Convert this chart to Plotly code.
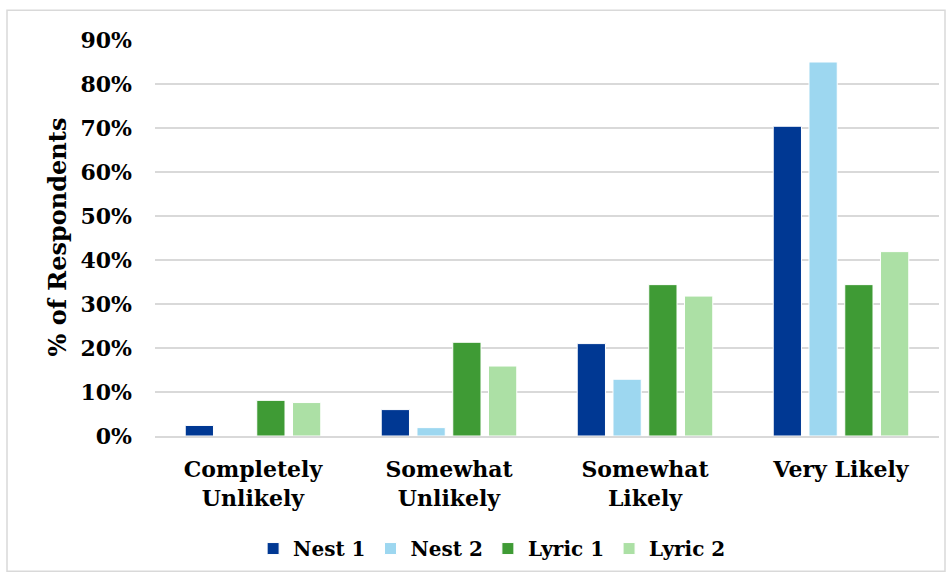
import plotly.graph_objects as go

categories = ["Completely<br>Unlikely", "Somewhat<br>Unlikely", "Somewhat<br>Likely", "Very Likely"]
series_names = ["Nest 1", "Nest 2", "Lyric 1", "Lyric 2"]
nest_1 = [0.024, 0.060, 0.210, 0.704]
nest_2 = [0.000, 0.019, 0.129, 0.850]
lyric_1 = [0.081, 0.213, 0.344, 0.344]
lyric_2 = [0.076, 0.159, 0.318, 0.419]
y_ticks = [0, 0.1, 0.2, 0.3, 0.4, 0.5, 0.6, 0.7, 0.8, 0.9]

colors = ["#003893", "#9DD7F0", "#3F9B35", "#ACE0A5"]
FONT = "DejaVu Serif"

fig = go.Figure()
for name, vals, col in zip(series_names, [nest_1, nest_2, lyric_1, lyric_2], colors):
    fig.add_trace(go.Bar(
        name=name, x=categories, y=vals,
        marker=dict(color=col, line=dict(color="white", width=1)),
    ))

# outer chart border
L, R, T, B = 155, 939, 40, 441
W, H = 952, 580
fig.add_shape(type="rect", xref="paper", yref="paper",
              x0=(7 - L) / (R - L), x1=(945 - L) / (R - L),
              y0=(B - 578) / (B - T), y1=(B - 10) / (B - T),
              line=dict(color="#D9D9D9", width=1.5), fillcolor="rgba(0,0,0,0)", layer="below")

fig.update_layout(
    width=W, height=H,
    margin=dict(l=L, r=W - R, t=T, b=H - B),
    paper_bgcolor="white", plot_bgcolor="white",
    barmode="group", bargap=0.27, bargroupgap=0.21,
    font=dict(family=FONT, size=22, color="black", weight="bold"),
    showlegend=True,
    legend=dict(orientation="h", x=0.43, xanchor="center", y=-0.235, yanchor="top",
                font=dict(family=FONT, size=20, color="black", weight="bold"),
                itemwidth=30, traceorder="normal"),
    xaxis=dict(showgrid=False, showline=True, linecolor="#D9D9D9", linewidth=2,
               ticks="", ticklabelstandoff=13,
               tickfont=dict(family=FONT, size=22, weight="bold")),
    yaxis=dict(range=[0, 0.9], tickvals=y_ticks, tickformat=".0%",
               showgrid=True, gridcolor="#D9D9D9", gridwidth=1.5,
               zeroline=False, showline=False, ticks="",
               ticklabelstandoff=22,
               tickfont=dict(family=FONT, size=22, weight="bold")),
    annotations=[dict(text="% of Respondents", textangle=-90, xref="paper", yref="paper",
                      x=(58 - L) / (R - L), y=(B - 240) / (B - T),
                      xanchor="center", yanchor="middle", showarrow=False,
                      font=dict(family=FONT, size=24, weight="bold", color="black"))],
)

fig.write_html("out.html")
